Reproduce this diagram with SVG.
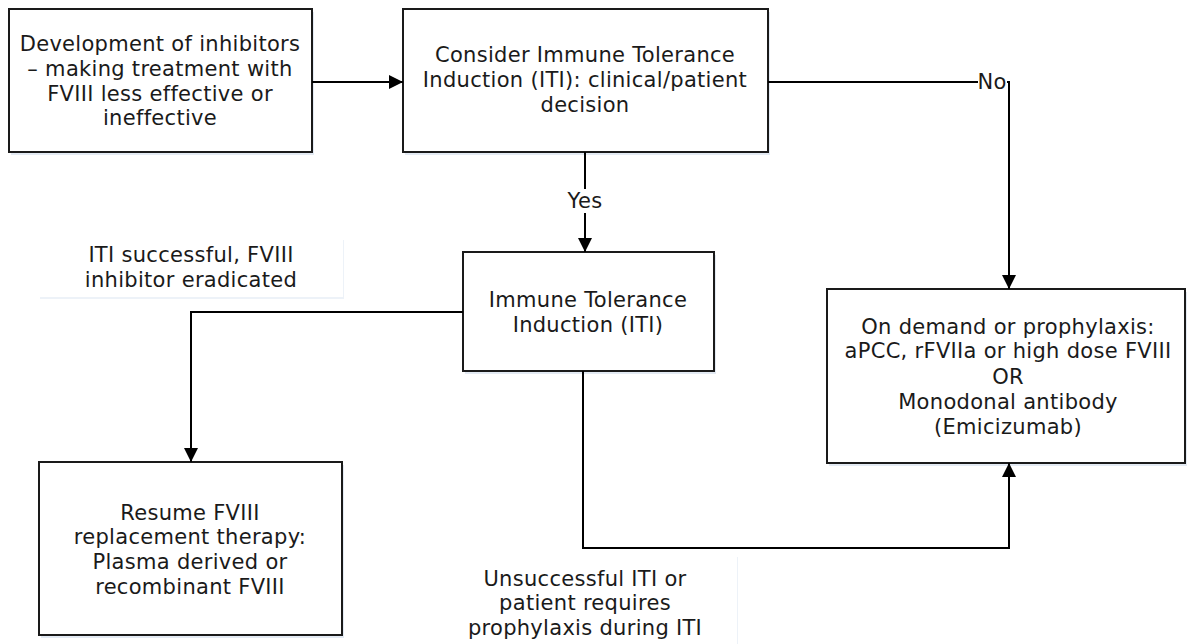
<svg xmlns="http://www.w3.org/2000/svg" width="1187" height="644" viewBox="0 0 1187 644">
<style>
.box{fill:#fff;stroke:#1a1a1a;stroke-width:2}
.shadow{fill:#e3eaf3}
.lbl{fill:#fff}
.t{font-family:"DejaVu Sans","Verdana",sans-serif;font-size:21px;letter-spacing:0.3px;fill:#1a1a1a;text-anchor:middle;dominant-baseline:central}
.c{fill:none;stroke:#000;stroke-width:2}
</style>
<defs>
<marker id="ah" viewBox="0 0 14 14" refX="14" refY="7" markerWidth="14" markerHeight="14" markerUnits="userSpaceOnUse" orient="auto">
<path d="M0,0 L14,7 L0,14 Z" fill="#000"/>
</marker>
</defs>
<g id="node-development">
<rect class="shadow" x="11" y="12" width="303" height="143"/>
<rect class="box" x="9" y="9" width="303" height="143"/>
<text class="t" x="160" y="44">Development of inhibitors</text>
<text class="t" x="160" y="69">– making treatment with</text>
<text class="t" x="160" y="94">FVIII less effective or</text>
<text class="t" x="160" y="118">ineffective</text>
</g>
<g id="node-consider">
<rect class="shadow" x="405" y="12" width="365" height="143"/>
<rect class="box" x="403" y="9" width="365" height="143"/>
<text class="t" x="585" y="55">Consider Immune Tolerance</text>
<text class="t" x="585" y="80">Induction (ITI): clinical/patient</text>
<text class="t" x="585" y="105">decision</text>
</g>
<g id="node-iti">
<rect class="shadow" x="465" y="255" width="251" height="119"/>
<rect class="box" x="463" y="252" width="251" height="119"/>
<text class="t" x="588" y="300">Immune Tolerance</text>
<text class="t" x="588" y="325">Induction (ITI)</text>
</g>
<g id="node-ondemand">
<rect class="shadow" x="829" y="292" width="358" height="174"/>
<rect class="box" x="827" y="289" width="358" height="174"/>
<text class="t" x="1008" y="327">On demand or prophylaxis:</text>
<text class="t" x="1008" y="351">aPCC, rFVIIa or high dose FVIII</text>
<text class="t" x="1008" y="377">OR</text>
<text class="t" x="1008" y="402">Monodonal antibody</text>
<text class="t" x="1008" y="427">(Emicizumab)</text>
</g>
<g id="node-resume">
<rect class="shadow" x="41" y="465" width="303" height="173"/>
<rect class="box" x="39" y="462" width="303" height="173"/>
<text class="t" x="190" y="513">Resume FVIII</text>
<text class="t" x="190" y="537">replacement therapy:</text>
<text class="t" x="190" y="562">Plasma derived or</text>
<text class="t" x="190" y="587">recombinant FVIII</text>
</g>
<g id="label-successful">
<rect fill="#edf2f8" x="40" y="240" width="304" height="59"/>
<rect class="lbl" x="39" y="238" width="304" height="59"/>
<text class="t" x="191" y="255">ITI successful, FVIII</text>
<text class="t" x="191" y="280">inhibitor eradicated</text>
</g>
<g id="label-unsuccessful">
<rect fill="#edf2f8" x="434" y="557" width="304" height="90"/>
<rect class="lbl" x="433" y="555" width="304" height="92"/>
<text class="t" x="585" y="579">Unsuccessful ITI or</text>
<text class="t" x="585" y="603">patient requires</text>
<text class="t" x="585" y="628">prophylaxis during ITI</text>
</g>
<g id="connectors">
<path class="c" d="M312,82 L403,82" marker-end="url(#ah)"/>
<path class="c" d="M768,82 L1009,82 L1009,289" marker-end="url(#ah)"/>
<path class="c" d="M585,152 L585,252" marker-end="url(#ah)"/>
<path class="c" d="M463,312 L191,312 L191,462" marker-end="url(#ah)"/>
<path class="c" d="M583,371 L583,548 L1009,548 L1009,463" marker-end="url(#ah)"/>
<rect class="lbl" x="978" y="70" width="29" height="24"/>
<text class="t" x="992" y="82">No</text>
<rect class="lbl" x="565" y="189" width="40" height="24"/>
<text class="t" x="585" y="201">Yes</text>
</g>
</svg>
